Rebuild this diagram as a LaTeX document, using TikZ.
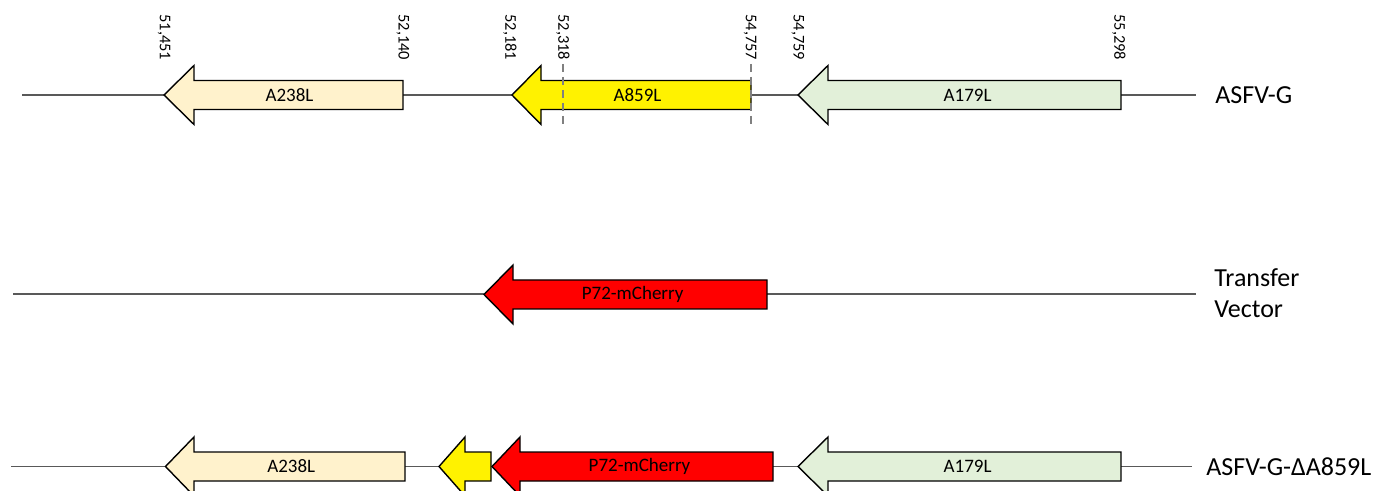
\documentclass[tikz,border=0pt]{standalone}
\usepackage{fontspec}
\setmainfont{Carlito}
\usetikzlibrary{positioning}
\definecolor{paleorange}{HTML}{FFF2CC}
\definecolor{palegreen}{HTML}{E2F0D9}
\definecolor{linegray}{HTML}{595959}

% gene pointing left: tip x, head base x, tail x, y, fill
\newcommand{\genearrow}[5]{%
  \filldraw[genebody, fill=#5] (#1,#4) -- (#2,#4-29.5) -- (#2,#4-14.5) -- (#3,#4-14.5)
    -- (#3,#4+14.5) -- (#2,#4+14.5) -- (#2,#4+29.5) -- cycle;}

\begin{document}
\begin{tikzpicture}[x=0.5pt,y=-0.5pt,
  backbone/.style={draw=linegray, line width=0.6pt},
  genebody/.style={draw=black, line width=0.7pt, line join=miter},
  genename/.style={font=\fontsize{9.5}{11}\selectfont, inner sep=0pt},
  poslabel/.style={font=\fontsize{8.2}{9}\selectfont, rotate=-90, anchor=west, inner sep=0pt},
  cutline/.style={draw=gray, line width=0.8pt, dash pattern=on 4pt off 2.5pt},
  rowname/.style={font=\fontsize{13}{15.5}\selectfont, anchor=west, align=left, inner sep=0pt}]
\useasboundingbox (0,0) rectangle (1379,491);

% ASFV-G
\coordinate (g0) at (22,95);
\coordinate (g1) at (1196,95);
\draw[backbone] (g0) -- (g1);
\genearrow{164}{194}{403}{95}{paleorange}
\genearrow{512}{541}{751}{95}{yellow}
\genearrow{798}{828}{1121}{95}{palegreen}
\node[genename] (gA238L) at (289.5,95) {A238L};
\node[genename] (gA859L) at (637.5,95) {A859L};
\node[genename] (gA179L) at (967.6,95) {A179L};
\coordinate (c1t) at (563,64);
\coordinate (c1b) at (563,128);
\coordinate (c2t) at (751,64);
\coordinate (c2b) at (751,128);
\draw[cutline] (c1t) -- (c1b);
\draw[cutline] (c2t) -- (c2b);
\node[poslabel] (p51451) at (164,14) {51,451};
\node[poslabel] (p52140) at (403,14) {52,140};
\node[poslabel] (p52181) at (510,14) {52,181};
\node[poslabel] (p52318) at (563,14) {52,318};
\node[poslabel] (p54757) at (750,14) {54,757};
\node[poslabel] (p54759) at (798,14) {54,759};
\node[poslabel] (p55298) at (1119,14) {55,298};
\node[rowname] (asfvg) at (1215,95) {ASFV-G};

% transfer vector
\coordinate (t0) at (13,294);
\coordinate (t1) at (1196,294);
\draw[backbone] (t0) -- (t1);
\genearrow{484}{513}{767}{294.5}{red}
\node[genename] (tP72) at (632.6,294.5) {P72-mCherry};
\node[rowname] (vector) at (1214,293) {Transfer\\Vector};

% ASFV-G-dA859L
\coordinate (d0) at (11,466.5);
\coordinate (d1) at (1192,466.5);
\draw[backbone] (d0) -- (d1);
\genearrow{165.5}{194}{405}{466.5}{paleorange}
\genearrow{439}{465}{491}{466.5}{yellow}
\genearrow{492}{520}{773}{466.5}{red}
\genearrow{798}{828}{1121}{466.5}{palegreen}
\node[genename] (dA238L) at (291.2,466.5) {A238L};
\node[genename] (dP72) at (639.5,466.5) {P72-mCherry};
\node[genename] (dA179L) at (967.6,466.5) {A179L};
\node[rowname] (asfvdel) at (1206,466.5) {ASFV-G-ΔA859L};
\end{tikzpicture}
\end{document}
